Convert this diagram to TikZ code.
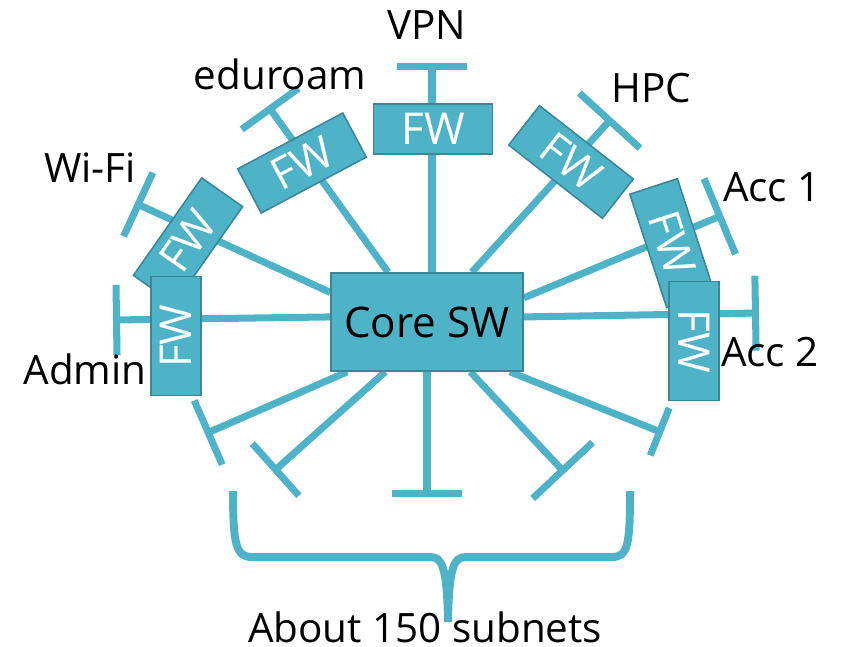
\documentclass[tikz,border=0pt]{standalone}
\usepackage{fontspec}
\setmainfont{Open Sans}
\usepackage{tikz}
\usetikzlibrary{arrows.meta,backgrounds,calc}
\definecolor{netblue}{HTML}{4FB3C8}
\definecolor{netedge}{HTML}{3A8798}

\begin{document}
\begin{tikzpicture}[x=0.02cm, y=-0.02cm, >={Bar[width=1.4cm]}, %端点均为横杠
    box/.style={draw=netedge, line width=0.9pt, fill=netblue, inner sep=0pt},
    fw/.style={box, minimum width=2.38cm, minimum height=1cm, text=white, font=\fontsize{25}{28}\selectfont},
    coresw/.style={box, minimum width=3.84cm, minimum height=1.96cm, font=\fontsize{24}{28}\selectfont},
    lbl/.style={font=\fontsize{23}{27}\selectfont, inner sep=0pt},
    link/.style={netblue, line width=4pt},
    wide/.style={>={Bar[width=1.64cm]}},
    short/.style={>={Bar[width=1.02cm]}}]
    \useasboundingbox (0,0) rectangle (845,646);

    \node[coresw] (core) at (427,322) {Core SW};
    \node[fw] (fwVpn) at (433,129) {FW};
    \node[fw, rotate=28] (fwEdu) at (302,163) {FW};
    \node[fw, rotate=55] (fwWifi) at (188,241) {FW};
    \node[fw, rotate=90] (fwAdmin) at (176,336) {FW}; %盖住Wi-Fi防火墙
    \node[fw, rotate=-38] (fwHpc) at (571,162) {FW};
    \node[fw, rotate=-72] (fwAcc1) at (672,243) {FW};
    \node[fw, rotate=-90] (fwAcc2) at (694,341) {FW};

    % 各子网的端点
    \coordinate (tVpn) at (432,63);
    \coordinate (tEdu) at (268,106);
    \coordinate (tWifi) at (135,203);
    \coordinate (tAdmin) at (113,320);
    \coordinate (tHpc) at (612,118);
    \coordinate (tAcc1) at (723,215);
    \coordinate (tAcc2) at (759,313);
    \coordinate (t1) at (205,434);
    \coordinate (t2) at (273,472);
    \coordinate (t3) at (427,497);
    \coordinate (t4) at (565,473);
    \coordinate (t5) at (663,433);

    \begin{scope}[on background layer] %连线放在方框下面
        \draw[link,->] (tVpn |- core.north) -- (tVpn);
        \draw[link,->] (core.128.5) -- (tEdu);
        \draw[link,->] (core.163.2) -- (tWifi);
        \draw[link,->] (core.177.6) -- (tAdmin);
        \draw[link,->,wide] (core.48.7) -- (tHpc);
        \draw[link,->,wide] (core.14) -- (tAcc1);
        \draw[link,->,>={Bar[width=1.5cm]}] (core.3.6) -- (tAcc2);
        \draw[link,->] (core.212.5) -- (t1);
        \draw[link,->] (core.230.8) -- (t2);
        \draw[link,->] (core.south) -- (t3);
        \draw[link,->,wide] (core.311.3) -- (t4);
        \draw[link,->,short] (core.329.4) -- (t5);
    \end{scope}

    \node[lbl] (vpnL) at (427,25) {VPN};
    \node[lbl] (eduL) at (280,74) {eduroam};
    \node[lbl] (wifiL) at (90,168) {Wi-Fi};
    \node[lbl] (adminL) at (85,369) {Admin};
    \node[lbl] (hpcL) at (651,88) {HPC};
    \node[lbl] (acc1L) at (772,187) {Acc 1};
    \node[lbl] (acc2L) at (770,352) {Acc 2};
    \node[lbl] (subnetL) at (425,627) {About 150 subnets};

    \draw[link, line width=4.5pt] (233,491) .. controls (233,545) and (236,557) .. (252,557) -- (430,557)
        .. controls (442,557) and (447,566) .. (448,622) .. controls (449,566) and (454,557) .. (466,557)
        -- (612,557) .. controls (628,557) and (630,545) .. (630,491); %大括号
\end{tikzpicture}
\end{document}
